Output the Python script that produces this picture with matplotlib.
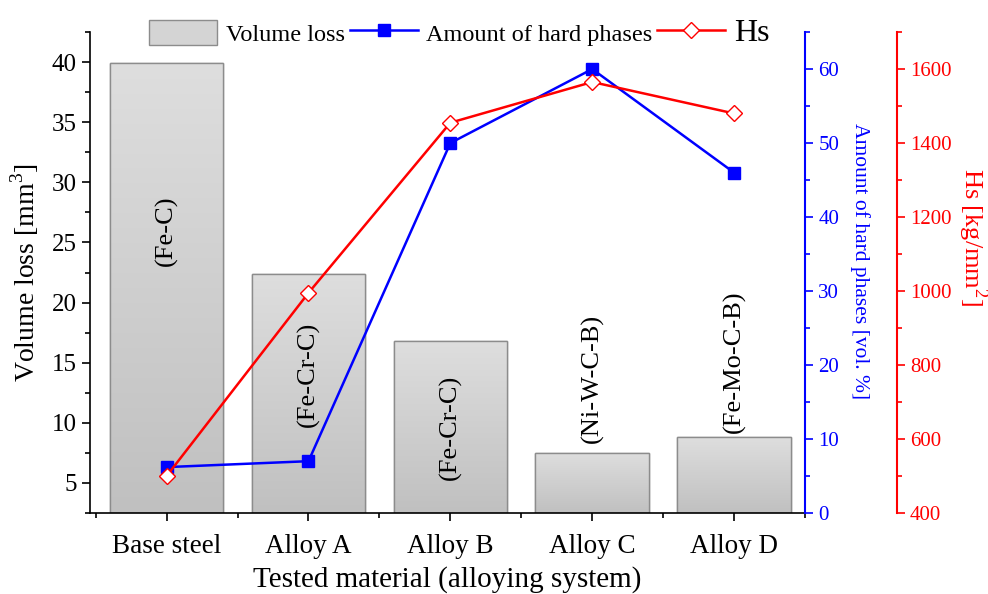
import matplotlib
matplotlib.use("Agg")
import matplotlib.pyplot as plt
import numpy as np
from matplotlib.lines import Line2D
from matplotlib.patches import Patch
from matplotlib.ticker import MultipleLocator
from matplotlib.colors import LinearSegmentedColormap

plt.rcParams['font.family'] = ['Liberation Serif', 'DejaVu Serif']
plt.rcParams['mathtext.fontset'] = 'custom'
plt.rcParams['mathtext.rm'] = 'Liberation Serif'

categories = ["Base steel", "Alloy A", "Alloy B", "Alloy C", "Alloy D"]
systems = ["(Fe-C)", "(Fe-Cr-C)", "(Fe-Cr-C)", "(Ni-W-C-B)", "(Fe-Mo-C-B)"]
volume_loss = [39.9, 22.4, 16.8, 7.5, 8.8]
hard_phases = [6.2, 7.0, 50.0, 60.0, 46.0]
hs = [500, 995, 1455, 1565, 1480]
label_y = [26.0, 14.0, 9.6, 13.7, 15.1]

fig = plt.figure(figsize=(9.88, 5.94), dpi=100)
ax = fig.add_axes([0.0911, 0.1364, 0.8148 - 0.0911, 0.946 - 0.1364])
ax2 = ax.twinx()
ax3 = ax.twinx()
ax.set_zorder(1)
ax.patch.set_visible(False)
ax2.set_zorder(2)
ax3.set_zorder(3)

YMIN, YMAX = 2.5, 42.5
x = np.arange(len(categories))
bars = ax.bar(x, volume_loss, width=0.8, color='#d4d4d4', edgecolor='#8c8c8c', linewidth=1.0, zorder=2)
grad = np.linspace(0, 1, 256).reshape(-1, 1)
cmap = LinearSegmentedColormap.from_list('g', ['#c0c0c0', '#dedede'])
for b in bars:
    x0, w, h = b.get_x(), b.get_width(), b.get_height()
    im = ax.imshow(grad, extent=[x0, x0 + w, YMIN, h], origin='lower', aspect='auto', cmap=cmap, zorder=2.1)
    im.set_clip_path(b)
    ax.add_patch(plt.Rectangle((x0, YMIN), w, h - YMIN, fill=False, edgecolor='#8c8c8c', linewidth=1.0, zorder=2.2))

for xi, s, yy in zip(x, systems, label_y):
    ax.text(xi, yy, s, rotation=90, ha='center', va='center', fontsize=19, zorder=3)

ax.set_xlim(-0.54, 4.5)
ax.set_ylim(YMIN, YMAX)
ax.set_xticks(x)
ax.set_xticklabels(categories)
ax.xaxis.set_minor_locator(MultipleLocator(0.5))
ax.yaxis.set_major_locator(MultipleLocator(5))
ax.yaxis.set_minor_locator(MultipleLocator(2.5))
ax.tick_params(axis='both', which='major', direction='out', length=6, width=1.2, labelsize=18)
ax.tick_params(axis='x', which='major', labelsize=19.5, pad=9)
ax.tick_params(axis='both', which='minor', direction='out', length=3.5, width=1.2)
ax.set_ylabel("Volume loss [mm$^3$]", fontsize=20, labelpad=8)
ax.set_xlabel("Tested material (alloying system)", fontsize=21, labelpad=5)
for sp in ['top', 'right']:
    ax.spines[sp].set_visible(False)
ax.spines['left'].set_linewidth(1.2)
ax.spines['bottom'].set_linewidth(1.2)

# blue axis
ax2.plot(x, hard_phases, color='blue', marker='s', markersize=8, linewidth=1.8, zorder=4)
ax2.set_ylim(0, 65)
ax2.yaxis.set_major_locator(MultipleLocator(10))
ax2.yaxis.set_minor_locator(MultipleLocator(5))
for sp in ['top', 'left', 'bottom']:
    ax2.spines[sp].set_visible(False)
ax2.spines['right'].set_color('blue')
ax2.spines['right'].set_linewidth(1.5)
ax2.tick_params(axis='y', which='both', colors='blue', direction='out', width=1.2, labelsize=15)
ax2.tick_params(axis='y', which='major', length=6)
ax2.tick_params(axis='y', which='minor', length=3.5)
ax2.set_ylabel("Amount of hard phases [vol. %]", color='blue', fontsize=15.5, rotation=270)
ax2.yaxis.set_label_coords(1.077, 0.524)
ax2.yaxis.label.set_va('center')
ax2.yaxis.label.set_ha('center')

# red axis
ax3.plot(x, hs, color='red', marker='D', markersize=8, markerfacecolor='white',
         markeredgecolor='red', linewidth=1.8, zorder=5)
ax3.set_ylim(400, 1700)
ax3.spines['right'].set_position(('outward', 66))
ax3.yaxis.set_major_locator(MultipleLocator(200))
ax3.yaxis.set_minor_locator(MultipleLocator(100))
for sp in ['top', 'left', 'bottom']:
    ax3.spines[sp].set_visible(False)
ax3.spines['right'].set_color('red')
ax3.spines['right'].set_linewidth(1.5)
ax3.tick_params(axis='y', which='both', colors='red', direction='out', width=1.2, labelsize=15)
ax3.tick_params(axis='y', which='major', length=6)
ax3.tick_params(axis='y', which='minor', length=3.5)
ax3.set_ylabel("Hs [kg/mm$^2$]", color='red', fontsize=19, rotation=270)
ax3.yaxis.set_label_coords(1.234, 0.574)
ax3.yaxis.label.set_va('center')
ax3.yaxis.label.set_ha('center')

handles = [
    Patch(facecolor='#d4d4d4', edgecolor='#8c8c8c'),
    Line2D([], [], color='blue', marker='s', markersize=8, linewidth=1.8),
    Line2D([], [], color='red', marker='D', markersize=8, markerfacecolor='white', markeredgecolor='red', linewidth=1.8),
]
leg = fig.legend(handles, ["Volume loss", "Amount of hard phases", "Hs"], ncol=3, frameon=False,
                 loc='center', bbox_to_anchor=(0.465, 0.944), fontsize=17.5, handlelength=2.8,
                 handleheight=1.2, columnspacing=0.2, handletextpad=0.35)
leg.get_texts()[2].set_fontsize(23)

fig.savefig("out.png", dpi=100)
